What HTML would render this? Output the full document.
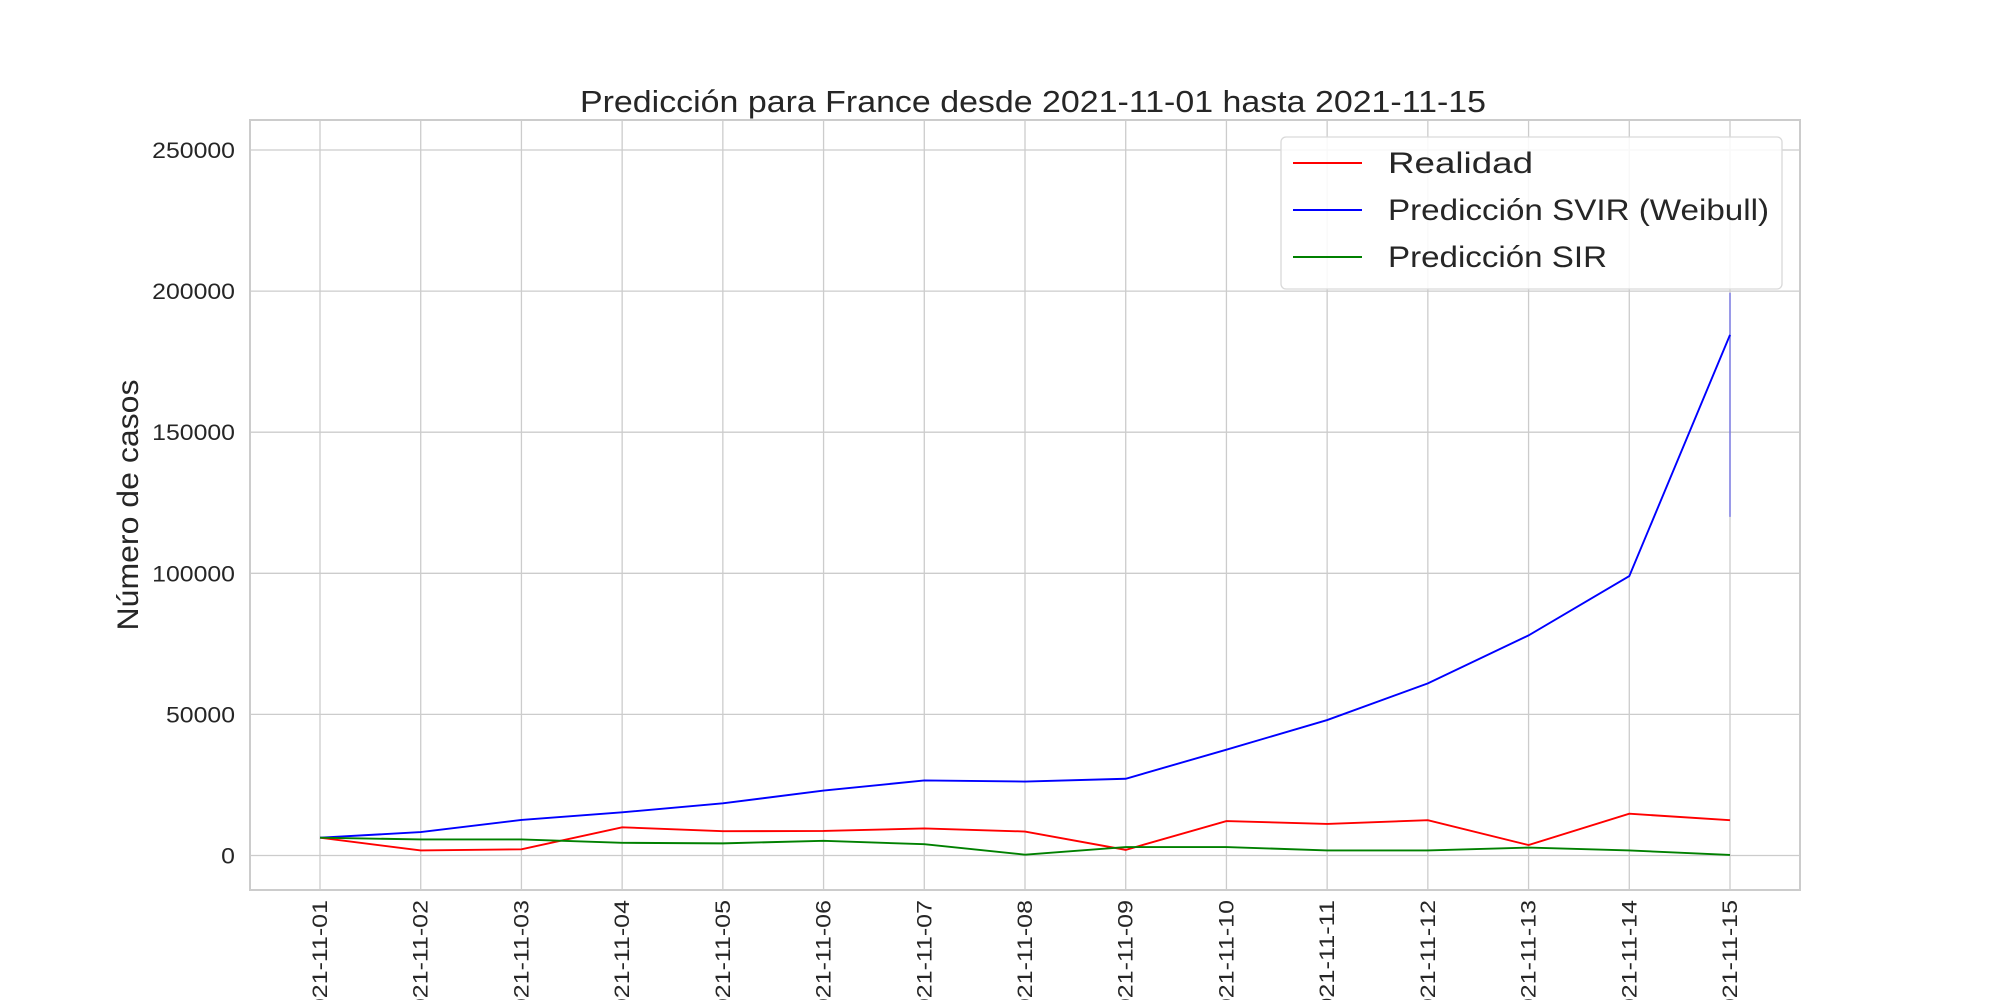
<!DOCTYPE html>
<html><head><meta charset="utf-8"><style>body{margin:0;background:#fff}svg{display:block}text{font-family:"Liberation Sans",sans-serif;fill:#262626}</style></head>
<body>
<svg id="chart" width="2000" height="1000"></svg>
<script>
const categories=["2021-11-01","2021-11-02","2021-11-03","2021-11-04","2021-11-05","2021-11-06","2021-11-07","2021-11-08","2021-11-09","2021-11-10","2021-11-11","2021-11-12","2021-11-13","2021-11-14","2021-11-15"];
const realidad=[6300,1800,2200,10000,8600,8700,9600,8500,2000,12200,11200,12500,3700,14800,12500];
const svir=[6300,8300,12600,15300,18500,23000,26600,26200,27200,37500,48000,61000,78000,99000,184500];
const sir=[6300,5700,5700,4500,4300,5200,4000,300,3000,3000,1800,1800,2800,1800,200];
const svirBand=[120000,199400];
const yTicks=[0,50000,100000,150000,200000,250000];
const NS="http://www.w3.org/2000/svg";
const svg=document.getElementById("chart");
const L=250,R=1800,T=120,B=890;
const x=i=>320+i*(1730-320)/(categories.length-1);
const y=v=>855.5-v*(855.5-150)/250000;
function mk(tag,attrs,parent){const e=document.createElementNS(NS,tag);for(const k in attrs)e.setAttribute(k,attrs[k]);(parent||svg).appendChild(e);return e;}
let g;
yTicks.forEach(v=>{
 g=mk("line",{x1:L,x2:R,y1:y(v),y2:y(v),stroke:"#cccccc","stroke-width":1.3});
 
 
 const s=String(v);
 g=mk("text",{x:L-15,y:y(v)+8,"text-anchor":"end","font-size":22,textLength:s.length*13.8,lengthAdjust:"spacingAndGlyphs"});g.textContent=s;
 
 
});
categories.forEach((c,i)=>{
 g=mk("line",{x1:x(i),x2:x(i),y1:T,y2:B,stroke:"#cccccc","stroke-width":1.3});
 
 
 g=mk("text",{x:0,y:0,"text-anchor":"end","font-size":21,textLength:126,lengthAdjust:"spacingAndGlyphs",transform:`translate(${x(i)+7},${B+10}) rotate(-90)`});g.textContent=c;
 
 
});
g=mk("rect",{x:L,y:T,width:R-L,height:B-T,fill:"none",stroke:"#cccccc","stroke-width":2});


g=mk("line",{x1:x(14),x2:x(14),y1:y(svirBand[1]),y2:y(svirBand[0]),stroke:"#0000ff","stroke-opacity":0.3,"stroke-width":2});


function line(data,color,name){
 const p=mk("polyline",{points:data.map((v,i)=>x(i)+","+y(v)).join(" "),fill:"none",stroke:color,"stroke-width":1.9});
 
 
}
line(realidad,"#ff0000","realidad-line");
line(svir,"#0000ff","svir-line");
line(sir,"#008000","sir-line");
g=mk("text",{x:1033,y:112,"text-anchor":"middle","font-size":31,textLength:906,lengthAdjust:"spacingAndGlyphs"});g.textContent="Predicción para France desde 2021-11-01 hasta 2021-11-15";


g=mk("text",{x:0,y:0,"text-anchor":"middle","font-size":30,textLength:251,lengthAdjust:"spacingAndGlyphs",transform:"translate(138,505) rotate(-90)"});g.textContent="Número de casos";


const lg=mk("g",{});


mk("rect",{x:1281,y:137,width:501,height:152,rx:5,fill:"#fff","fill-opacity":0.85,stroke:"#d9d9d9","stroke-width":1.3},lg);
[["Realidad","#ff0000",145],["Predicción SVIR (Weibull)","#0000ff",381],["Predicción SIR","#008000",219]].forEach((e,i)=>{
 const yy=163+i*47;
 g=mk("line",{x1:1293,x2:1362,y1:yy,y2:yy,stroke:e[1],"stroke-width":1.9},lg);
 
 
 g=mk("text",{x:1388,y:yy+10,"font-size":30,textLength:e[2],lengthAdjust:"spacingAndGlyphs"},lg);g.textContent=e[0];
 
 
});
</script>
</body></html>
